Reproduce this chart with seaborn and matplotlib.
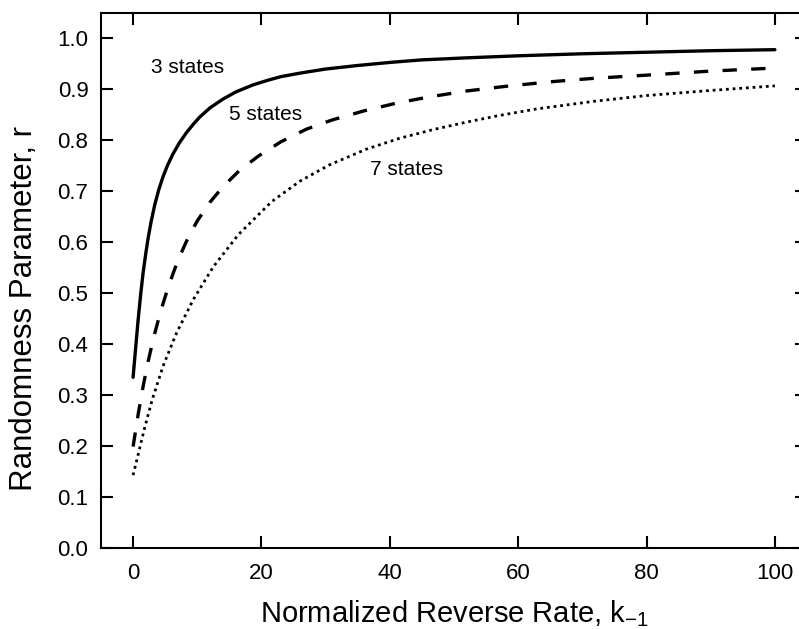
import matplotlib
matplotlib.use("Agg")
import matplotlib.pyplot as plt
import seaborn as sns
import pandas as pd

# ---- data ----
x_3 = [0, 0.4, 0.78, 1.2, 1.56, 2.0, 2.34, 2.8, 3.38, 4.0, 4.67, 5.4, 6.2,
       7.2, 8.3, 9.4, 10.4, 12, 14, 16, 18.7, 21, 23, 26, 30, 35, 40, 45,
       52, 60, 70, 80, 90, 100]
r_3 = [0.335, 0.393, 0.447, 0.500, 0.540, 0.580, 0.608, 0.640, 0.674, 0.703,
       0.729, 0.752, 0.773, 0.795, 0.815, 0.832, 0.846, 0.864, 0.881, 0.895,
       0.909, 0.918, 0.925, 0.932, 0.940, 0.947, 0.953, 0.958, 0.962, 0.966,
       0.970, 0.973, 0.976, 0.978]

x_5 = [0, 0.8, 1.5, 2.3, 3.3, 4.4, 5.6, 7.0, 8.5, 10, 12, 14, 16.5, 19.5,
       23, 27, 31, 36, 41, 46, 52, 58, 65, 72, 80, 90, 100]
r_5 = [0.199, 0.263, 0.313, 0.364, 0.418, 0.469, 0.517, 0.565, 0.607, 0.642,
       0.679, 0.709, 0.740, 0.769, 0.797, 0.822, 0.840, 0.858, 0.873, 0.885,
       0.897, 0.906, 0.915, 0.922, 0.928, 0.936, 0.942]

x_7 = [0, 0.8, 1.8, 3.0, 4.7, 6.8, 9.4, 12.5, 16.4, 21.6, 26, 30.6, 36.4,
       41.5, 46.7, 52, 57.1, 63, 72, 80, 90, 100]
r_7 = [0.143, 0.184, 0.236, 0.292, 0.358, 0.423, 0.488, 0.552, 0.615, 0.680,
       0.720, 0.752, 0.783, 0.804, 0.821, 0.836, 0.849, 0.862, 0.877, 0.888,
       0.898, 0.907]

series_names = ["3 states", "5 states", "7 states"]
label_x = [8.5, 20.7, 42.6]
label_y = [0.944, 0.850, 0.743]

x_ticks = [0, 20, 40, 60, 80, 100]
y_ticks = [0.0, 0.1, 0.2, 0.3, 0.4, 0.5, 0.6, 0.7, 0.8, 0.9, 1.0]

# ---- styling ----
sns.set_style("ticks")
plt.rcParams['font.family'] = ['Liberation Sans', 'DejaVu Sans']
plt.rcParams['mathtext.fontset'] = 'custom'
plt.rcParams['mathtext.rm'] = 'Liberation Sans'
plt.rcParams['axes.edgecolor'] = 'black'
plt.rcParams['text.color'] = 'black'
plt.rcParams['axes.labelcolor'] = 'black'
plt.rcParams['xtick.color'] = 'black'
plt.rcParams['ytick.color'] = 'black'
plt.rcParams['axes.linewidth'] = 1.5

fig = plt.figure(figsize=(7.99, 6.29), dpi=100)
ax = fig.add_axes([101 / 799, 81 / 629, 706 / 799, 535 / 629])

frames = [
    pd.DataFrame({"k": x_3, "r": r_3}),
    pd.DataFrame({"k": x_5, "r": r_5}),
    pd.DataFrame({"k": x_7, "r": r_7}),
]
styles = [
    dict(linestyle='-', linewidth=2.4),
    dict(linestyle=(0, (4.3, 4.3)), linewidth=2.4, dash_capstyle='butt'),
    dict(linestyle=(0, (1.0, 1.4)), linewidth=2.0, dash_capstyle='butt'),
]
for df, st in zip(frames, styles):
    sns.lineplot(data=df, x="k", y="r", ax=ax, color='black',
                 sort=False, estimator=None, **st)

for name, lx, ly in zip(series_names, label_x, label_y):
    ax.text(lx, ly, name, ha='center', va='center', fontsize=15, color='black')

ax.set_xlim(-5, 105)
ax.set_ylim(0, 1.05)
ax.set_xticks(x_ticks)
ax.set_xticklabels([str(t) for t in x_ticks])
ax.set_yticks(y_ticks)
ax.set_yticklabels([f"{t:.1f}" for t in y_ticks])

ax.tick_params(axis='both', which='major', direction='in', length=8.5,
               width=1.5, labelsize=16, colors='black',
               top=True, right=True)
ax.tick_params(axis='x', pad=11)
ax.tick_params(axis='y', pad=9)

for s in ax.spines.values():
    s.set_visible(True)
    s.set_linewidth(1.5)

ax.set_xlabel(r'Normalized Reverse Rate, k$_{\mathregular{-1}}$', fontsize=21,
              va='baseline', color='black')
ax.xaxis.set_label_coords(0.5, -0.1383)
ax.set_ylabel('Randomness Parameter, r', fontsize=22.5, va='center',
              color='black')
ax.yaxis.set_label_coords(-0.109, 0.447)

fig.savefig("out.png", dpi=100)
